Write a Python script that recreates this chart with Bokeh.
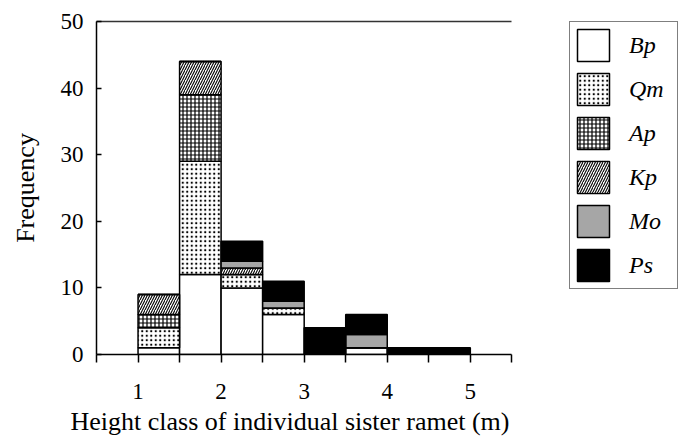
from bokeh.plotting import figure
from bokeh.models import Range1d, FixedTicker, Legend, LegendItem, LinearAxis, Title
from bokeh.embed import file_html
from bokeh.resources import INLINE

# Height class bins (m): centers of 0.5 m classes
height_class = [1.25, 1.75, 2.25, 2.75, 3.25, 3.75, 4.25, 4.75]
species = ["Bp", "Qm", "Ap", "Kp", "Mo", "Ps"]
Bp = [1, 12, 10, 6, 0, 1, 0, 0]
Qm = [3, 17, 2, 1, 0, 0, 0, 0]
Ap = [2, 10, 0, 0, 0, 0, 0, 0]
Kp = [3, 5, 1, 0, 0, 0, 0, 0]
Mo = [0, 0, 1, 1, 0, 2, 0, 0]
Ps = [0, 0, 3, 3, 4, 3, 1, 1]
x_ticks = [0.5, 1, 1.5, 2, 2.5, 3, 3.5, 4, 4.5, 5, 5.5]
x_tick_labels = ["", "1", "", "2", "", "3", "", "4", "", "5", ""]
y_ticks = [0, 10, 20, 30, 40, 50]
x_label = "Height class of individual sister ramet (m)"
y_label = "Frequency"

FONT = "Liberation Serif"
X_MIN, X_MAX = 0.5, 5.5

# frame extends right so the legend can live inside it; axes are bounded to data range
p = figure(width=682, height=439, output_backend="svg", toolbar_location=None,
           x_range=Range1d(X_MIN, 7.53), y_range=Range1d(0, 50),
           min_border_left=96, min_border_right=2, min_border_top=21,
           min_border_bottom=85)
p.outline_line_color = None
p.xgrid.visible = False
p.ygrid.visible = False

data = dict(x=height_class, Bp=Bp, Qm=Qm, Ap=Ap, Kp=Kp, Mo=Mo, Ps=Ps)

styles = {
    "Bp": dict(fill_color="white"),
    "Qm": dict(fill_color="white", hatch_pattern="dot", hatch_scale=4.5, hatch_weight=1.6, hatch_color="black"),
    "Ap": dict(fill_color="white", hatch_pattern="cross", hatch_scale=4, hatch_weight=1.2, hatch_color="black"),
    "Kp": dict(fill_color="white", hatch_pattern="right_diagonal_line", hatch_scale=5, hatch_weight=1.1, hatch_color="black"),
    "Mo": dict(fill_color="#a6a6a6"),
    "Ps": dict(fill_color="black"),
}

renderers = []
for i, sp in enumerate(species):
    kw = dict(line_color="black", line_width=1.5)
    kw.update(styles[sp])
    r = p.vbar_stack(species[: i + 1], x="x", width=0.5, source=data)
    for rr in r[:-1]:
        p.renderers.remove(rr)
    top = r[-1]
    for k, v in kw.items():
        setattr(top.glyph, k, v)
    renderers.append(top)

xa = p.below[0]
ya = p.left[0]

# axes
for ax in (xa, ya):
    ax.axis_line_color = "black"
    ax.axis_line_width = 1.5
    ax.major_tick_line_color = "black"
    ax.major_tick_line_width = 1.5
    ax.minor_tick_line_color = None
    ax.major_label_text_font = FONT
    ax.major_label_text_font_size = "23px"
    ax.major_label_text_color = "black"
    ax.axis_label_text_font = FONT
    ax.axis_label_text_font_size = "26px"
    ax.axis_label_text_font_style = "normal"
    ax.axis_label_text_color = "black"

xa.bounds = (X_MIN, X_MAX)
xa.ticker = FixedTicker(ticks=x_ticks)
xa.major_label_overrides = {t: l for t, l in zip(x_ticks, x_tick_labels)}
xa.major_tick_out = 8
xa.major_tick_in = 0
xa.major_label_standoff = 21

ya.ticker = FixedTicker(ticks=y_ticks)
ya.major_tick_out = 0
ya.major_tick_in = 5
ya.major_label_standoff = 13
ya.axis_label = y_label
ya.axis_label_standoff = 18

# x axis title, centred under the data part of the axis
p.add_layout(Title(text=x_label, align="left", offset=-26, standoff=6,
                   text_font=FONT, text_font_size="26px", text_font_style="normal",
                   text_color="black"), "below")

# top border of the plot area as a bare axis
top_axis = LinearAxis(ticker=FixedTicker(ticks=[]), bounds=(X_MIN, X_MAX),
                      axis_line_color="#333333", axis_line_width=1.5,
                      major_tick_line_color=None, minor_tick_line_color=None,
                      major_label_text_font_size="0px", major_label_standoff=0,
                      major_tick_out=0, major_tick_in=0)
p.add_layout(top_axis, "above")

legend = Legend(
    items=[LegendItem(label=sp, renderers=[r]) for sp, r in zip(species, renderers)],
    location=(473, 65),
    glyph_width=40, glyph_height=40, spacing=4, padding=3, margin=0,
    label_standoff=16, label_width=45,
    label_text_font=FONT, label_text_font_style="italic", label_text_font_size="24px",
    label_text_color="black",
    border_line_color="black", border_line_width=1,
    background_fill_color="white", background_fill_alpha=1,
)
p.add_layout(legend)

open("out.html", "w").write(file_html(p, INLINE))
